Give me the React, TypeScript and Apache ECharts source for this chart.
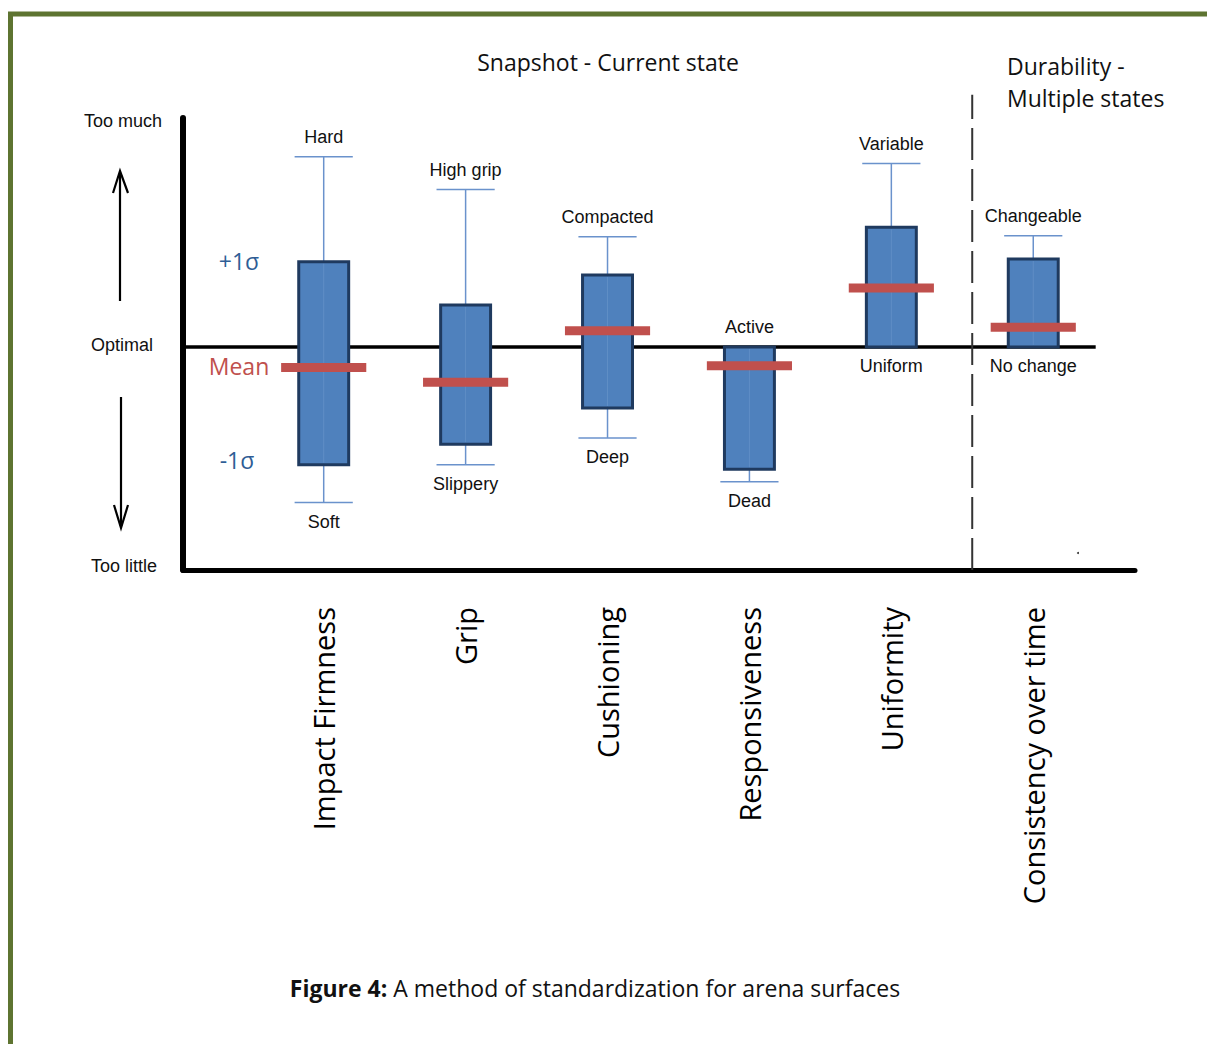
import React, { useEffect, useRef } from "react";
import * as echarts from "echarts";

// ---- data ----
const categories = [
  "Impact Firmness",
  "Grip",
  "Cushioning",
  "Responsiveness",
  "Uniformity",
  "Consistency over time",
];
const whiskerHigh = [4.26, 3.53, 2.47, 0, 4.11, 2.49];
const boxHigh = [1.91, 0.94, 1.61, 0, 2.68, 1.97];
const meanValues = [-0.46, -0.79, 0.36, -0.42, 1.32, 0.44];
const boxLow = [-2.64, -2.18, -1.37, -2.74, 0, 0];
const whiskerLow = [-3.49, -2.64, -2.04, -3.02, 0, 0];
const highLabels = ["Hard", "High grip", "Compacted", "Active", "Variable", "Changeable"];
const lowLabels = ["Soft", "Slippery", "Deep", "Dead", "Uniform", "No change"];

// axis extents / reference lines (in data units)
const X_MIN = -0.9915;
const X_MAX = 5.717;
const Y_MIN = -5;
const Y_MAX = 5.13;
const OPTIMAL = 0;
const OPTIMAL_END = 5.44;
const SEPARATOR_AT = 4.57;
const SEPARATOR_TOP = 5.65;

const SMALL_FONT = "'Liberation Sans', Arial, sans-serif";
const BIG_FONT = "'Open Sans', 'Noto Sans', sans-serif";

export default function App() {
  const ref = useRef<HTMLDivElement>(null);

  useEffect(() => {
    document.body.style.margin = "0";
    const chart = echarts.init(ref.current!, null, { renderer: "svg" });

    const boxData = categories.map((_, i) => [
      i,
      whiskerLow[i],
      boxLow[i],
      meanValues[i],
      boxHigh[i],
      whiskerHigh[i],
    ]);

    const renderItem = (params: any, api: any) => {
      const i = api.value(0);
      const wl = api.value(1);
      const bl = api.value(2);
      const mv = api.value(3);
      const bh = api.value(4);
      const wh = api.value(5);
      const unit = api.size([1, 0])[0];
      const cx = api.coord([i, 0])[0];
      const y = (v: number) => api.coord([i, v])[1];
      const boxW = unit * 0.352;
      const capW = unit * 0.41;
      const meanW = unit * 0.6;
      const whiskerStyle = { stroke: "#6a92cc", lineWidth: 1.5 };
      const children: any[] = [];
      if (wh > bh) {
        children.push({
          type: "line",
          shape: { x1: cx, y1: y(wh), x2: cx, y2: y(bh) },
          style: whiskerStyle,
        });
        children.push({
          type: "line",
          shape: { x1: cx - capW / 2, y1: y(wh), x2: cx + capW / 2, y2: y(wh) },
          style: whiskerStyle,
        });
      }
      if (wl < bl) {
        children.push({
          type: "line",
          shape: { x1: cx, y1: y(bl), x2: cx, y2: y(wl) },
          style: whiskerStyle,
        });
        children.push({
          type: "line",
          shape: { x1: cx - capW / 2, y1: y(wl), x2: cx + capW / 2, y2: y(wl) },
          style: whiskerStyle,
        });
      }
      children.push({
        type: "rect",
        shape: { x: cx - boxW / 2, y: y(bh), width: boxW, height: y(bl) - y(bh) },
        style: { fill: "#4f81bd", stroke: "#1f3a5f", lineWidth: 3 },
      });
      children.push({
        type: "line",
        shape: { x1: cx, y1: y(bh) + 2, x2: cx, y2: y(bl) - 2 },
        style: { stroke: "#7ea6d8", lineWidth: 1, opacity: 0.35 },
      });
      children.push({
        type: "rect",
        shape: { x: cx - meanW / 2, y: y(mv) - 4.5, width: meanW, height: 9 },
        style: { fill: "#c0504d" },
      });
      children.push({
        type: "text",
        x: cx,
        y: y(wh) - 19.5,
        style: {
          text: highLabels[i],
          fill: "#111",
          fontSize: 18,
          fontFamily: SMALL_FONT,
          align: "center",
          verticalAlign: "middle",
        },
      });
      children.push({
        type: "text",
        x: cx,
        y: y(wl) + 19.5,
        style: {
          text: lowLabels[i],
          fill: "#111",
          fontSize: 18,
          fontFamily: SMALL_FONT,
          align: "center",
          verticalAlign: "middle",
        },
      });
      return { type: "group", children };
    };

    const leftText = (text: string, x: number, y: number, extra: any = {}) => ({
      type: "text",
      x,
      y,
      style: {
        text,
        fill: "#111",
        fontSize: 18,
        fontFamily: SMALL_FONT,
        align: "center",
        verticalAlign: "middle",
        ...extra,
      },
    });

    chart.setOption({
      animation: false,
      backgroundColor: "#ffffff",
      grid: { left: 183, top: 118, width: 952, height: 452 },
      xAxis: {
        type: "value",
        min: X_MIN,
        max: X_MAX,
        splitLine: { show: false },
        axisTick: { show: false },
        axisLine: { show: true, onZero: false, lineStyle: { color: "#000", width: 5 } },
        axisLabel: {
          customValues: [0, 1, 2, 3, 4, 5],
          formatter: (v: number) => categories[Math.round(v)] ?? "",
          rotate: 90,
          margin: 37,
          fontSize: 29,
          fontFamily: BIG_FONT,
          color: "#000",
        },
      },
      yAxis: {
        type: "value",
        min: Y_MIN,
        max: Y_MAX,
        splitLine: { show: false },
        axisTick: { show: false },
        axisLabel: { show: false },
        axisLine: { show: true, onZero: false, lineStyle: { color: "#000", width: 6 } },
      },
      series: [
        {
          type: "line",
          name: "optimal",
          data: [
            [X_MIN, OPTIMAL],
            [OPTIMAL_END, OPTIMAL],
          ],
          symbol: "none",
          lineStyle: { color: "#000", width: 3.5 },
          z: 1,
          silent: true,
        },
        {
          type: "line",
          name: "separator",
          data: [
            [SEPARATOR_AT, Y_MIN],
            [SEPARATOR_AT, SEPARATOR_TOP],
          ],
          symbol: "none",
          clip: false,
          lineStyle: { color: "#333", width: 2, type: [32, 9] },
          z: 1,
          silent: true,
        },
        {
          type: "custom",
          name: "ranges",
          renderItem,
          data: boxData,
          encode: { x: 0, y: [1, 2, 3, 4, 5] },
          clip: false,
          z: 3,
        },
      ],
      graphic: [
        {
          type: "rect",
          shape: { x: 10.5, y: 14, width: 1220, height: 1060 },
          style: { fill: "none", stroke: "#5e7431", lineWidth: 5 },
          silent: true,
        },
        {
          type: "text",
          x: 608,
          y: 62,
          style: {
            text: "Snapshot - Current state",
            fill: "#111",
            fontSize: 23,
            fontFamily: BIG_FONT,
            align: "center",
            verticalAlign: "middle",
          },
        },
        {
          type: "text",
          x: 1007,
          y: 66,
          style: {
            text: "Durability -",
            fill: "#111",
            fontSize: 23,
            fontFamily: BIG_FONT,
            align: "left",
            verticalAlign: "middle",
          },
        },
        {
          type: "text",
          x: 1007,
          y: 98,
          style: {
            text: "Multiple states",
            fill: "#111",
            fontSize: 23,
            fontFamily: BIG_FONT,
            align: "left",
            verticalAlign: "middle",
          },
        },
        leftText("Too much", 123, 121),
        leftText("Optimal", 122, 345),
        leftText("Too little", 124, 566),
        leftText("+1σ", 239, 261, { fill: "#2e5d95", fontSize: 23, fontFamily: BIG_FONT }),
        leftText("Mean", 239, 366, { fill: "#c0504d", fontSize: 23, fontFamily: BIG_FONT }),
        leftText("-1σ", 237, 460, { fill: "#2e5d95", fontSize: 23, fontFamily: BIG_FONT }),
        {
          type: "line",
          shape: { x1: 120, y1: 301, x2: 120, y2: 173 },
          style: { stroke: "#000", lineWidth: 2.2 },
        },
        {
          type: "polyline",
          shape: { points: [[113, 193], [120, 171], [128, 193]] },
          style: { stroke: "#000", lineWidth: 2.2, fill: "none" },
        },
        {
          type: "line",
          shape: { x1: 121, y1: 397, x2: 121, y2: 526 },
          style: { stroke: "#000", lineWidth: 2.2 },
        },
        {
          type: "polyline",
          shape: { points: [[114, 505], [121, 528], [128, 505]] },
          style: { stroke: "#000", lineWidth: 2.2, fill: "none" },
        },
        {
          type: "circle",
          shape: { cx: 1078, cy: 553, r: 1 },
          style: { fill: "#333" },
        },
        {
          type: "text",
          x: 595,
          y: 988,
          style: {
            text: "{b|Figure 4:} A method of standardization for arena surfaces",
            fill: "#111",
            fontSize: 23,
            fontFamily: BIG_FONT,
            align: "center",
            verticalAlign: "middle",
            rich: {
              b: { fontWeight: "bold", fontSize: 23, fontFamily: BIG_FONT, fill: "#111" },
            },
          },
        },
      ],
    });

    return () => chart.dispose();
  }, []);

  return <div ref={ref} style={{ width: 1207, height: 1044 }} />;
}
